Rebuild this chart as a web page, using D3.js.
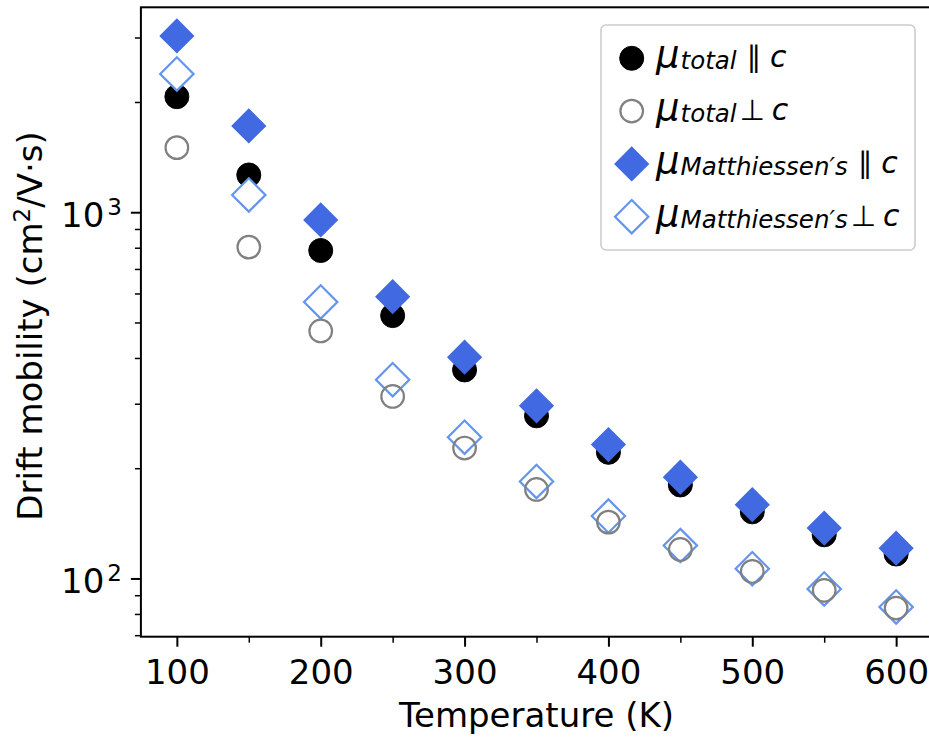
<!DOCTYPE html>
<html>
<head>
<meta charset="utf-8">
<script src="https://cdn.jsdelivr.net/npm/d3@7"></script>
<style>
  html, body { margin: 0; padding: 0; background: #fff; }
  svg { display: block; font-family: "DejaVu Sans", sans-serif; }
</style>
</head>
<body>
<svg id="chart" width="929" height="737"></svg>
<script>
// Temperatures (K)
const temperatures = [100, 150, 200, 250, 300, 350, 400, 450, 500, 550, 600];

// Drift mobility (cm^2/V·s)
const totalParallel = [2068, 1264, 786, 522, 371, 278, 221, 180, 152, 131.6, 116.6];
const totalPerp     = [1501, 803, 474, 314, 227, 175, 142.5, 120, 104.5, 92.8, 83];
const mattParallel  = [3030, 1720, 953, 588, 402, 296, 232, 189, 159, 137.3, 121];
const mattPerp      = [2385, 1115, 569, 349, 243, 184, 148, 123, 106.3, 93.6, 83.6];

// Axis ticks
const xMajorTicks = [100, 200, 300, 400, 500, 600];
const xMinorTicks = [150, 250, 350, 450, 550];
const yMajorTicks = [100, 1000];
const yMajorLabels = [["10", "2"], ["10", "3"]];
const yMinorTicks = [70, 80, 90, 200, 300, 400, 500, 600, 700, 800, 900, 2000, 3000];

const xLabel = "Temperature (K)";

const svg = d3.select("#chart");
const W = 929, H = 737;
svg.append("rect").attr("width", W).attr("height", H).attr("fill", "#fff");

const plot = { left: 140.9, right: 932.1, top: 7.3, bottom: 636.7 };

// x: 5% margins around 100..600
const xMin = d3.min(temperatures), xMax = d3.max(temperatures);
const xPad = (xMax - xMin) * 0.05;
const x = d3.scaleLinear().domain([xMin - xPad, xMax + xPad]).range([plot.left, plot.right]);

// y: log scale, 5% margins in log space
const allVals = [].concat(totalParallel, totalPerp, mattParallel, mattPerp);
const lmin = Math.log10(d3.min(allVals)), lmax = Math.log10(d3.max(allVals));
const lpad = (lmax - lmin) * 0.05;
const y = d3.scaleLog().domain([Math.pow(10, lmin - lpad), Math.pow(10, lmax + lpad)]).range([plot.bottom, plot.top]);

const C_ROYAL = "#4169E1", C_CORN = "#6495ED", C_GRAY = "#808080";

// ---- markers ----
const diamondSide = 23.6;
const diamondPath = d3.symbol().type(d3.symbolSquare).size(diamondSide * diamondSide)();

function drawFilledCircle(g, cx, cy) {
  g.append("circle").attr("cx", cx).attr("cy", cy).attr("r", 12)
    .attr("fill", "#000").attr("stroke", "#000").attr("stroke-width", 1);
}
function drawOpenCircle(g, cx, cy) {
  g.append("circle").attr("cx", cx).attr("cy", cy).attr("r", 11.3)
    .attr("fill", "none").attr("stroke", C_GRAY).attr("stroke-width", 2.2);
}
function drawFilledDiamond(g, cx, cy) {
  g.append("path").attr("d", diamondPath)
    .attr("transform", `translate(${cx},${cy}) rotate(45)`)
    .attr("fill", C_ROYAL).attr("stroke", C_ROYAL).attr("stroke-width", 1.3);
}
function drawOpenDiamond(g, cx, cy) {
  g.append("path").attr("d", diamondPath)
    .attr("transform", `translate(${cx},${cy}) rotate(45)`)
    .attr("fill", "#fff").attr("stroke", C_CORN).attr("stroke-width", 2.2);
}

const series = [
  { values: totalParallel, draw: drawFilledCircle },
  { values: mattParallel,  draw: drawFilledDiamond },
  { values: mattPerp,      draw: drawOpenDiamond },
  { values: totalPerp,     draw: drawOpenCircle }
];

svg.append("clipPath").attr("id", "plotclip")
  .append("rect").attr("x", plot.left).attr("y", plot.top)
  .attr("width", plot.right - plot.left).attr("height", plot.bottom - plot.top);

const marks = svg.append("g").attr("clip-path", "url(#plotclip)");
series.forEach(s => {
  const g = marks.append("g");
  temperatures.forEach((t, i) => s.draw(g, x(t), y(s.values[i])));
});

// ---- spines ----
const spines = svg.append("g").attr("stroke", "#000").attr("stroke-width", 2).attr("fill", "none");
spines.append("rect").attr("x", plot.left).attr("y", plot.top)
  .attr("width", plot.right - plot.left).attr("height", plot.bottom - plot.top);

// ---- x axis ----
const xAxisMajor = d3.axisBottom(x).tickValues(xMajorTicks).tickSize(10).tickPadding(8).tickFormat(d3.format("d"));
const xAxisMinor = d3.axisBottom(x).tickValues(xMinorTicks).tickSize(6).tickFormat("");
const gxMinor = svg.append("g").attr("transform", `translate(0,${plot.bottom})`).call(xAxisMinor);
gxMinor.select(".domain").remove();
gxMinor.selectAll("line").attr("stroke", "#000").attr("stroke-width", 1.5);
const gx = svg.append("g").attr("transform", `translate(0,${plot.bottom})`).call(xAxisMajor);
gx.select(".domain").remove();
gx.selectAll("line").attr("stroke", "#000").attr("stroke-width", 2);
gx.selectAll("text").attr("fill", "#000").attr("font-size", 34)
  .attr("font-family", "DejaVu Sans").attr("dy", null).attr("y", 47.6);

svg.append("text").attr("x", (plot.left + plot.right) / 2).attr("y", 727)
  .attr("text-anchor", "middle").attr("font-size", 34).attr("fill", "#000").text(xLabel);

// ---- y axis ----
const yAxisMajor = d3.axisLeft(y).tickValues(yMajorTicks).tickSize(10).tickFormat("");
const yAxisMinor = d3.axisLeft(y).tickValues(yMinorTicks).tickSize(6).tickFormat("");
const gyMinor = svg.append("g").attr("transform", `translate(${plot.left},0)`).call(yAxisMinor);
gyMinor.select(".domain").remove();
gyMinor.selectAll("line").attr("stroke", "#000").attr("stroke-width", 1.5);
const gy = svg.append("g").attr("transform", `translate(${plot.left},0)`).call(yAxisMajor);
gy.select(".domain").remove();
gy.selectAll("line").attr("stroke", "#000").attr("stroke-width", 2);

yMajorTicks.forEach((v, i) => {
  const t = svg.append("text").attr("x", 122).attr("y", y(v) + 14.5)
    .attr("text-anchor", "end").attr("font-size", 34).attr("fill", "#000");
  t.append("tspan").text(yMajorLabels[i][0]);
  t.append("tspan").attr("font-size", 23).attr("dx", 3).attr("dy", -12).text(yMajorLabels[i][1]);
});

const yl = svg.append("text")
  .attr("transform", `translate(41.5,${(plot.top + plot.bottom) / 2 + 4}) rotate(-90)`)
  .attr("text-anchor", "middle").attr("font-size", 34).attr("fill", "#000");
yl.append("tspan").text("Drift mobility (cm");
yl.append("tspan").attr("font-size", 23).attr("dy", -12).text("2");
yl.append("tspan").attr("dy", 12).text("/V·s)");

// ---- legend ----
const legend = svg.append("g");
legend.append("rect").attr("x", 601).attr("y", 25).attr("width", 314).attr("height", 225)
  .attr("rx", 5).attr("fill", "#fff").attr("stroke", "#cccccc").attr("stroke-width", 1.6);

const legendItems = [
  { sub: "total", rel: "\u2225", draw: drawFilledCircle },
  { sub: "total", rel: "\u22A5", draw: drawOpenCircle },
  { sub: "Matthiessen\u2032s", rel: "\u2225", draw: drawFilledDiamond },
  { sub: "Matthiessen\u2032s", rel: "\u22A5", draw: drawOpenDiamond }
];

legendItems.forEach((it, i) => {
  const cy = 58.3 + i * 52.8;
  const g = legend.append("g");
  it.draw(g, 631.7, cy);
  const t = g.append("text").attr("x", 656).attr("y", cy + 9).attr("fill", "#000");
  t.append("tspan").attr("font-size", 37).attr("font-style", "italic").text("\u03BC");
  t.append("tspan").attr("font-size", 24.5).attr("font-style", "italic").attr("dx", 1).attr("dy", 2).text(it.sub);
  t.append("tspan").attr("font-size", 29).attr("dx", it.rel === "\u2225" ? 10 : 3).attr("dy", -2).text(it.rel);
  t.append("tspan").attr("font-size", 30).attr("font-style", "italic").attr("dx", it.rel === "\u2225" ? 9 : 7).text("c");
});
</script>
</body>
</html>
